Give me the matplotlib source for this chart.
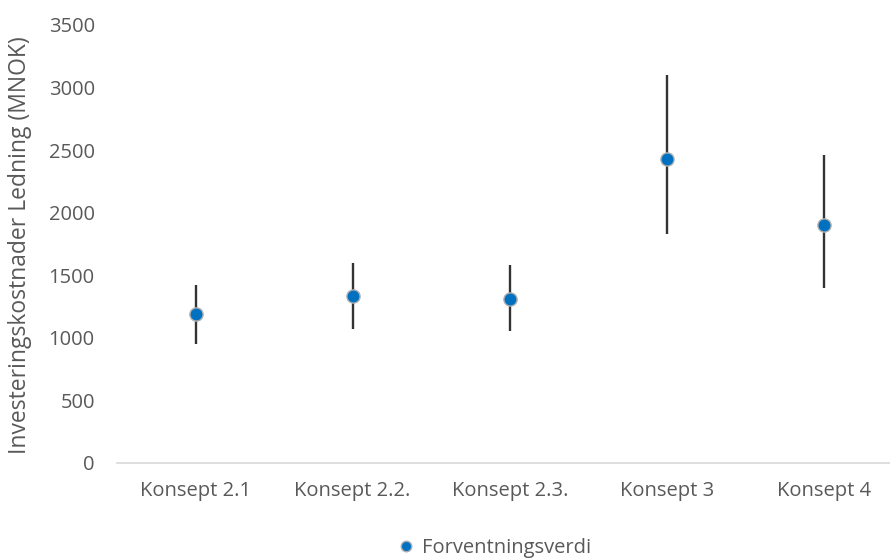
import numpy as np
import matplotlib
matplotlib.use('Agg')
from matplotlib import pyplot as plt

plt.rcParams['font.family'] = ['Open Sans', 'DejaVu Sans']

# 数据
konsepter = ['Konsept 2.1', 'Konsept 2.2.', 'Konsept 2.3.', 'Konsept 3', 'Konsept 4']
forventning = np.array([1190, 1335, 1313, 2432, 1900])
p_lav = np.array([950, 1070, 1055, 1833, 1398])
p_hoy = np.array([1422, 1601, 1580, 3098, 2461])

fig = plt.figure(figsize=(8.9, 5.58), dpi=100)
ax = fig.add_axes([117 / 890, 1 - 463 / 558, (902.5 - 117) / 890, (463 - 25) / 558])

x = np.arange(len(konsepter))
ax.errorbar(x, forventning, yerr=[forventning - p_lav, p_hoy - forventning],
            fmt='none', ecolor='#333333', elinewidth=1.7, capsize=0, zorder=2)
ax.plot(x, forventning, 'o', ms=9.5, mfc='#0070C0', mec='#B0B0B0', mew=1.0,
        zorder=3, label='Forventningsverdi')

ax.set_xlim(-0.5, 4.5)
ax.set_ylim(0, 3500)
ax.set_yticks(np.arange(0, 3501, 500))
ax.set_xticks(x)
ax.set_xticklabels(konsepter)
for s in ['top', 'right', 'left']:
    ax.spines[s].set_visible(False)
ax.spines['bottom'].set_color('#D9D9D9')
ax.spines['bottom'].set_linewidth(1.2)
ax.tick_params(axis='both', length=0, labelsize=14.5, labelcolor='#595959')
ax.tick_params(axis='x', pad=13)
ax.tick_params(axis='y', pad=16)
ax.set_ylabel('Investeringskostnader Ledning (MNOK)', fontsize=16.5, color='#595959',
              va='center')
ax.yaxis.set_label_coords(-0.123, 0.497)

fig.legend(loc='center', bbox_to_anchor=(0.555, 1 - 548 / 558), ncol=1, frameon=False,
           fontsize=14.5, labelcolor='#595959', handletextpad=0.3, handlelength=1.0,
           markerscale=0.8, bbox_transform=fig.transFigure, borderpad=0.1)

fig.savefig('out.png', dpi=100)
